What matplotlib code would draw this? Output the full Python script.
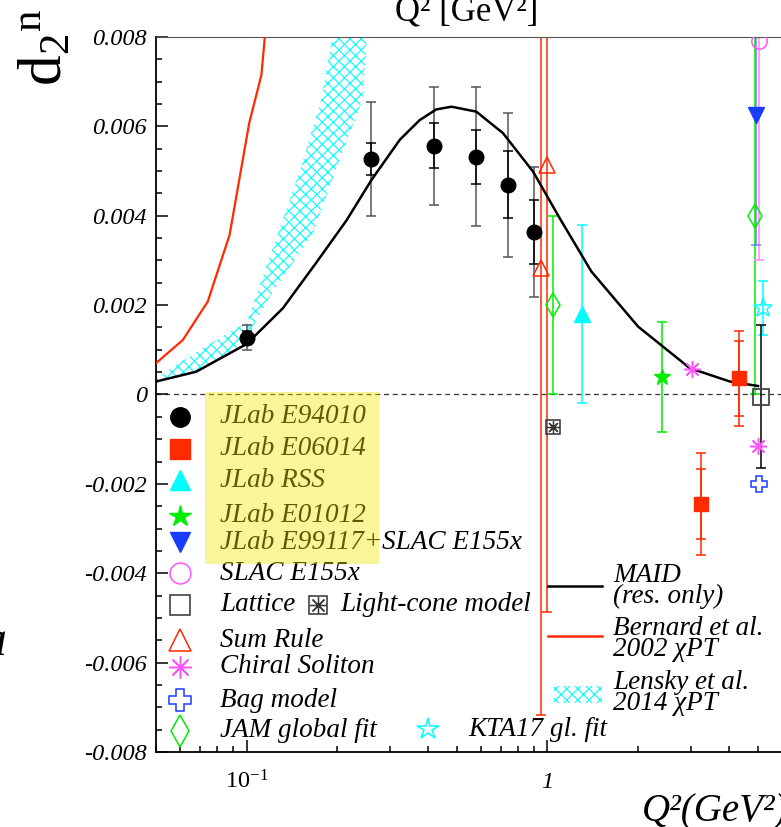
import matplotlib
matplotlib.use('Agg')
import matplotlib.pyplot as plt
import numpy as np
from matplotlib.patches import Rectangle
from matplotlib.ticker import MultipleLocator, NullFormatter

# ---- data ----
# JLab E94010 (black circles, stat + total errors)
e94010_q2 = [0.10, 0.26, 0.42, 0.58, 0.74, 0.90]
e94010_d2 = [0.00127, 0.00527, 0.00557, 0.00532, 0.00469, 0.00364]
e94010_stat = [0.00015, 0.00035, 0.0005, 0.0006, 0.00075, 0.00072]
e94010_tot = [0.00028, 0.00127, 0.00132, 0.00156, 0.00162, 0.00145]

# JLab E06014 (red squares)
e06014_q2 = [3.23, 4.34]
e06014_d2 = [-0.00245, 0.00036]
e06014_stat = [0.00079, 0.00083]
e06014_tot = [0.00114, 0.00107]

rss_q2, rss_d2, rss_err = [1.30], [0.0018], [0.002]
e01012_q2, e01012_d2, e01012_err = [2.41], [0.0004], [0.00123]
e99117_q2, e99117_d2, e99117_err = [4.92], [0.00625], [0.0029]
e155x_q2, e155x_d2, e155x_err = [5.04], [0.0079], [0.0049]
lattice_q2, lattice_d2, lattice_err = [5.12], [-0.00005], [0.0016]
lightcone_q2, lightcone_d2 = [1.04], [-0.00072]
sumrule_q2, sumrule_d2, sumrule_err = [0.95, 1.0], [0.00282, 0.00514], [0.01, 0.01]
chiral_q2, chiral_d2 = [3.01, 5.02], [0.00057, -0.00115]
bag_q2, bag_d2 = [5.05], [-0.002]
jam_q2, jam_d2, jam_err = [1.04, 4.9], [0.002, 0.004], [0.002, 0.004]
kta_q2, kta_d2, kta_err = [5.21], [0.00193], [0.0006]

# MAID (res. only) curve
maid_q2 = [0.05, 0.068, 0.1, 0.132, 0.17, 0.215, 0.26, 0.323, 0.376, 0.427,
           0.48, 0.58, 0.711, 0.895, 1.099, 1.40, 2.0, 2.97, 4.04, 5.01]
maid_d2 = [0.00029, 0.00051, 0.00113, 0.00193, 0.00294, 0.0039, 0.0048, 0.0057,
           0.00614, 0.00638, 0.00644, 0.00633, 0.00585, 0.00499, 0.00394,
           0.00275, 0.00152, 0.00059, 0.00029, 0.00019]

# Bernard et al. 2002 chiPT
bern_q2 = [0.05, 0.0614, 0.0743, 0.0878, 0.102, 0.112, 0.115, 0.119]
bern_d2 = [0.0007, 0.00122, 0.00208, 0.00357, 0.00607, 0.00715, 0.008, 0.0093]

# Lensky et al. 2014 chiPT band
lensky_hi_q2 = [0.05, 0.07, 0.09, 0.1, 0.105, 0.127, 0.152, 0.177, 0.193, 0.2]
lensky_hi_d2 = [0.00037, 0.001, 0.00144, 0.0016, 0.002, 0.0036, 0.0051, 0.0066, 0.008, 0.0086]
lensky_lo_q2 = [0.05, 0.07, 0.09, 0.1, 0.117, 0.166, 0.1995, 0.243, 0.251, 0.26]
lensky_lo_d2 = [0.00026, 0.00055, 0.00098, 0.00125, 0.0021, 0.0036, 0.0051, 0.0066, 0.008, 0.0086]

xticks = [0.1, 1]
xticklabels = [r'$\mathit{10^{-1}}$', '1']
yticks = [-0.008, -0.006, -0.004, -0.002, 0, 0.002, 0.004, 0.006, 0.008]
yticklabels = ['-0.008', '-0.006', '-0.004', '-0.002', '0', '0.002', '0.004', '0.006', '0.008']

RED = '#ff2a00'
CYAN = '#00ffff'
GREEN = '#00ee00'
BLUE = '#1a3cff'
MAG = '#ff55ff'

plt.rcParams['font.family'] = 'Liberation Serif'
plt.rcParams['mathtext.fontset'] = 'custom'
plt.rcParams['mathtext.rm'] = 'Liberation Serif'
plt.rcParams['mathtext.it'] = 'Liberation Serif:italic'
plt.rcParams['hatch.linewidth'] = 0.8

fig = plt.figure(figsize=(7.81, 8.27), dpi=100)
ax = fig.add_axes([156 / 781, 75 / 827, 625 / 781, 715 / 827])
ax.set_xscale('log')
ax.set_xlim(0.05, 5.97)
ax.set_ylim(-0.008, 0.008)

ax.axhline(0, color='#333333', lw=0.9, ls=(0, (4, 3)), zorder=1)

# theory curves
ax.fill(np.concatenate([lensky_lo_q2, lensky_hi_q2[::-1]]),
        np.concatenate([lensky_lo_d2, lensky_hi_d2[::-1]]),
        facecolor='none', edgecolor=CYAN, hatch='xxx', lw=0, zorder=2)
ax.plot(bern_q2, bern_d2, color=RED, lw=1.6, zorder=3)
ax.plot(maid_q2, maid_d2, color='k', lw=1.8, zorder=3)

# data / model points
eb = dict(fmt='none', capsize=3.5, elinewidth=1.1, capthick=1.1)
ax.errorbar(sumrule_q2, sumrule_d2, yerr=sumrule_err, ecolor=RED, **eb)
ax.plot(sumrule_q2, sumrule_d2, '^', ms=12, mfc='none', mec=RED, mew=1.1, zorder=5)
ax.errorbar(jam_q2, jam_d2, yerr=jam_err, ecolor=GREEN, **eb)
ax.plot(jam_q2, jam_d2, 'd', ms=12, mfc='none', mec=GREEN, mew=1.1, zorder=5)
ax.errorbar(e155x_q2, e155x_d2, yerr=e155x_err, ecolor='#ff88ff', **eb)
ax.plot(e155x_q2, e155x_d2, 'o', ms=11, mfc='none', mec=MAG, mew=1.1, zorder=5)
ax.errorbar(e99117_q2, e99117_d2, yerr=e99117_err, ecolor='#7080ff', **eb)
ax.plot(e99117_q2, e99117_d2, 'v', ms=11, color=BLUE, zorder=5)
ax.errorbar(rss_q2, rss_d2, yerr=rss_err, ecolor=CYAN, **eb)
ax.plot(rss_q2, rss_d2, '^', ms=11, color=CYAN, zorder=5)
ax.errorbar(e01012_q2, e01012_d2, yerr=e01012_err, ecolor=GREEN, **eb)
ax.plot(e01012_q2, e01012_d2, '*', ms=12, color=GREEN, zorder=5)
ax.errorbar(kta_q2, kta_d2, yerr=kta_err, ecolor=CYAN, **eb)
ax.plot(kta_q2, kta_d2, '*', ms=14, mfc='none', mec=CYAN, mew=1.1, zorder=5)
ax.errorbar(lattice_q2, lattice_d2, yerr=lattice_err, ecolor='k', **eb)
ax.plot(lattice_q2, lattice_d2, 's', ms=11, mfc='none', mec='#444444', mew=1.3, zorder=5)
ax.plot(lightcone_q2, lightcone_d2, 's', ms=10, mfc='none', mec='#333333', mew=1.1, zorder=5)
ax.plot(lightcone_q2, lightcone_d2, marker=(8, 2, 0), ms=9, color='#333333', mew=0.9, ls='none', zorder=5)
ax.plot(chiral_q2, chiral_d2, marker=(8, 2, 0), ms=12, color=MAG, mew=1.1, ls='none', zorder=5)
ax.plot(bag_q2, bag_d2, 'P', ms=12, mfc='none', mec=BLUE, mew=1.1, zorder=5)

ax.errorbar(e06014_q2, e06014_d2, yerr=e06014_tot, ecolor=RED, **eb)
ax.errorbar(e06014_q2, e06014_d2, yerr=e06014_stat, ecolor=RED, **eb)
ax.plot(e06014_q2, e06014_d2, 's', ms=10, color=RED, zorder=6)
ax.errorbar(e94010_q2, e94010_d2, yerr=e94010_tot, ecolor='#555555', **eb)
ax.errorbar(e94010_q2, e94010_d2, yerr=e94010_stat, ecolor='k', **eb)
ax.plot(e94010_q2, e94010_d2, 'o', ms=10.5, color='k', zorder=6)

# axes styling
ax.set_xticks(xticks, labels=xticklabels)
ax.xaxis.set_minor_formatter(NullFormatter())
ax.set_yticks(yticks, labels=yticklabels)
ax.yaxis.set_minor_locator(MultipleLocator(0.0005))
ax.tick_params(which='both', direction='in', labelsize=17.5, width=1.1)
ax.tick_params(which='major', length=8.5)
ax.tick_params(which='minor', length=4)
ax.tick_params(axis='y', pad=6.5)
ax.tick_params(axis='x', pad=26)
for lbl in ax.get_xticklabels() + ax.get_yticklabels():
    lbl.set_fontstyle('italic')
for lbl in ax.get_xticklabels():
    lbl.set_va('baseline')
ax.spines['right'].set_visible(False)
ax.spines['top'].set_color('#555555')
for s in ['left', 'bottom']:
    ax.spines[s].set_linewidth(1.3)

# legend, drawn by hand
tr = ax.transAxes
mk = dict(transform=tr, clip_on=False, ls='none', zorder=7)
tx = dict(transform=tr, fontsize=19.5, style='italic', va='center', ha='left', zorder=7)
kx, lx = 0.0384, 0.1024
ax.plot(kx, 0.4690, 'o', ms=14, color='k', **mk)
ax.text(lx, 0.4690, 'JLab E94010', **tx)
ax.plot(kx, 0.4238, 's', ms=14, color=RED, **mk)
ax.text(lx, 0.4238, 'JLab E06014', **tx)
ax.plot(kx, 0.3804, '^', ms=15, color=CYAN, **mk)
ax.text(lx, 0.3804, 'JLab RSS', **tx)
ax.plot(kx, 0.3301, '*', ms=16, color=GREEN, **mk)
ax.text(lx, 0.3301, 'JLab E01012', **tx)
ax.plot(kx, 0.2933, 'v', ms=15, color=BLUE, **mk)
ax.text(lx, 0.2933, 'JLab E99117+SLAC E155x', **tx)
ax.plot(kx, 0.2499, 'o', ms=15, mfc='none', mec=MAG, mew=1.1, **mk)
ax.text(lx, 0.2499, 'SLAC E155x', **tx)
ax.plot(kx, 0.2056, 's', ms=14, mfc='none', mec='#333333', mew=1.1, **mk)
ax.text(lx, 0.2056, 'Lattice', **tx)
ax.plot(0.2597, 0.2056, 's', ms=13, mfc='none', mec='#333333', mew=1.1, **mk)
ax.plot(0.2597, 0.2056, marker=(8, 2, 0), ms=12, color='#333333', mew=0.9, **mk)
ax.text(0.2944, 0.2056, 'Light-cone model', **tx)
ax.plot(kx, 0.1566, '^', ms=16, mfc='none', mec=RED, mew=1.1, **mk)
ax.text(lx, 0.1566, 'Sum Rule', **tx)
ax.plot(kx, 0.1189, marker=(8, 2, 0), ms=16, color=MAG, mew=1.1, **mk)
ax.text(lx, 0.1189, 'Chiral Soliton', **tx)
ax.plot(kx, 0.0727, 'P', ms=16, mfc='none', mec=BLUE, mew=1.1, **mk)
ax.text(lx, 0.0727, 'Bag model', **tx)
ax.plot(kx, 0.0298, 'd', ms=16, mfc='none', mec=GREEN, mew=1.1, **mk)
ax.text(lx, 0.0298, 'JAM global fit', **tx)
ax.plot(0.4357, 0.0317, '*', ms=16, mfc='none', mec=CYAN, mew=1.1, **mk)
ax.text(0.4992, 0.0317, 'KTA17 gl. fit', **tx)

ax.add_patch(Rectangle((0.0784, 0.2629), 0.2784, 0.2406, transform=tr,
                       facecolor=(240 / 255, 230 / 255, 0), alpha=0.4, lw=0, zorder=8))

ax.plot([0.627, 0.7136], [0.2322, 0.2322], color='k', lw=1.8, transform=tr, zorder=7)
ax.plot([0.627, 0.7136], [0.1622, 0.1622], color=RED, lw=1.8, transform=tr, zorder=7)
ax.add_patch(Rectangle((0.6368, 0.0685), 0.0768, 0.0238, transform=tr, facecolor='none',
                       edgecolor=CYAN, hatch='xxx', lw=0, zorder=7))
rx = 0.7317
ax.text(rx, 0.2322, 'MAID\n(res. only)', linespacing=0.8, **tx)
ax.text(rx, 0.1575, 'Bernard et al.\n2002 χPT', linespacing=0.8, **tx)
ax.text(rx, 0.0827, 'Lensky et al.\n2014 χPT', linespacing=0.8, **tx)

# axis titles
fig.text(47 / 781, 1 - 47 / 827, r'$\mathrm{d_2{}^n}$', rotation=90, ha='center', va='center', fontsize=44)
fig.text(642 / 781, 1 - 821 / 827, 'Q²(GeV²)', ha='left', va='baseline', fontsize=28, style='italic')
fig.text(467 / 781, 1 - 21 / 827, 'Q² [GeV²]', ha='center', va='baseline', fontsize=25)
fig.text(7 / 781, 1 - 655 / 827, 'a', ha='right', va='baseline', fontsize=36, style='italic')

fig.savefig('out.png', dpi=100)
